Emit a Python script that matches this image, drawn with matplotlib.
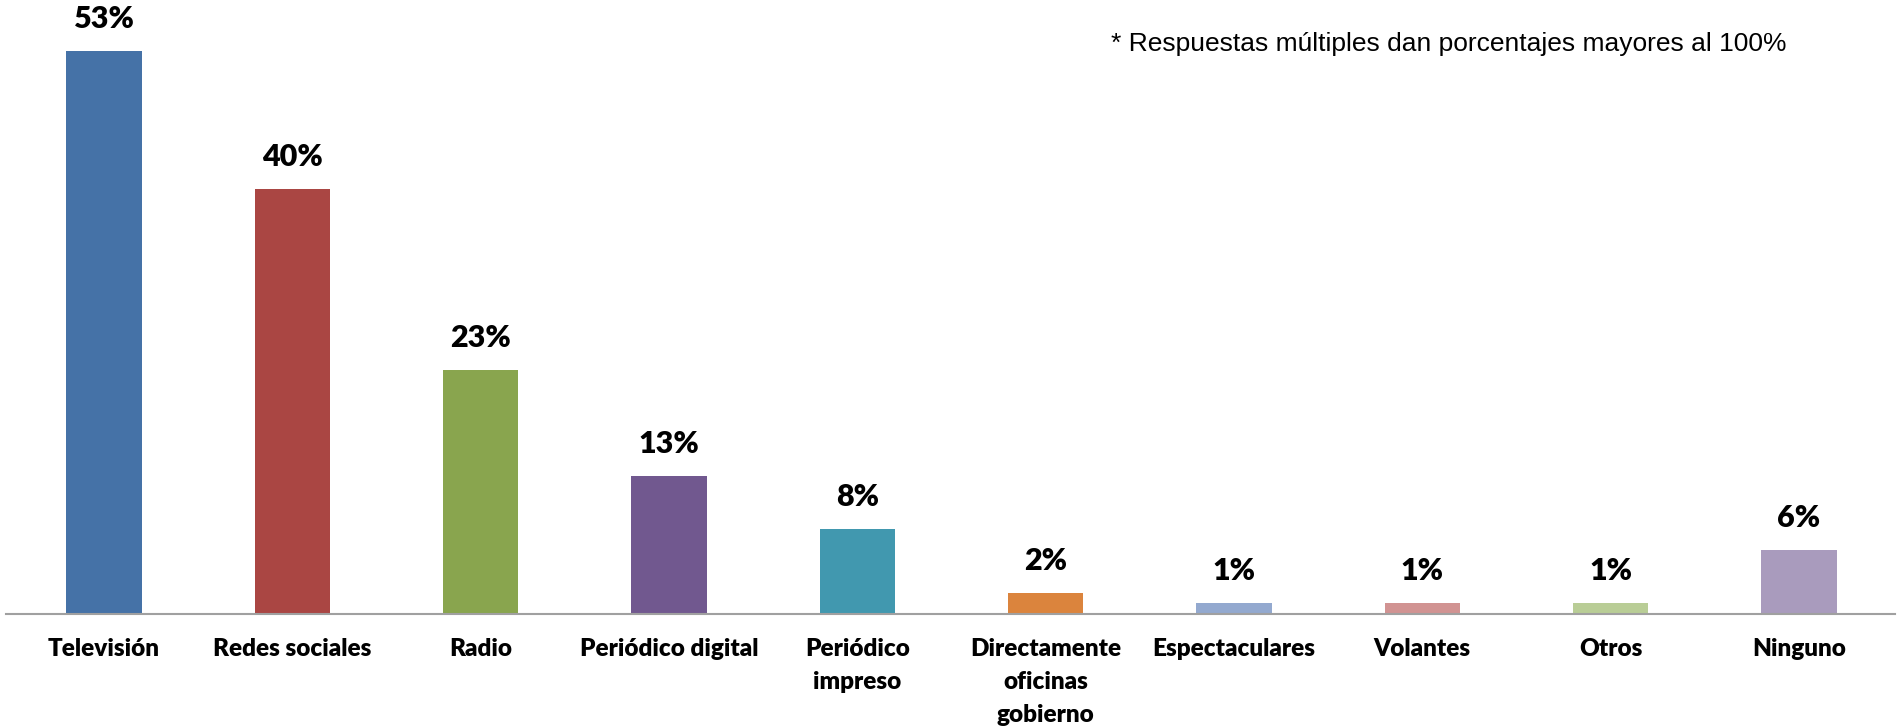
import matplotlib.pyplot as plt

# Survey: media channels where people get information (multiple answers allowed)
categories = [
    "Televisión", "Redes sociales", "Radio", "Periódico digital",
    "Periódico\nimpreso", "Directamente\noficinas\ngobierno",
    "Espectaculares", "Volantes", "Otros", "Ninguno",
]
values = [53, 40, 23, 13, 8, 2, 1, 1, 1, 6]
colors = [
    "#4572A7", "#AA4643", "#89A54E", "#71588F", "#4198AF",
    "#DB843D", "#93A9CF", "#D19392", "#B9CD96", "#A99BBD",
]
note = "* Respuestas múltiples dan porcentajes mayores al 100%"

fig = plt.figure(figsize=(18.98, 7.26), dpi=100)
ax = fig.add_axes([6 / 1898, 112 / 726, 1889 / 1898, 614 / 726])

x = list(range(len(categories)))
bars = ax.bar(x, values, width=0.40, color=colors)

# value labels above each bar
for bar, v in zip(bars, values):
    ax.annotate(f"{v}%", (bar.get_x() + bar.get_width() / 2, v),
                xytext=(0, 13), textcoords="offset points",
                ha="center", va="bottom", fontsize=22, fontweight="heavy",
                family="Lato")

ax.set_xlim(-0.52, 9.51)
ax.set_ylim(0, 57.8)
ax.set_xticks(x)
ax.set_xticklabels(categories, fontsize=17.5, fontweight="heavy", family="Lato",
                   linespacing=1.62, va="top")
ax.tick_params(axis="x", length=0, pad=17)
ax.set_yticks([])

for side in ["top", "left", "right"]:
    ax.spines[side].set_visible(False)
ax.spines["bottom"].set_color("#a0a0a0")
ax.spines["bottom"].set_linewidth(1.5)

fig.text(1111 / 1898, 1 - 51 / 726, note, fontsize=19,
         family="Liberation Sans", ha="left", va="baseline")

fig.savefig("out.png", dpi=100)
